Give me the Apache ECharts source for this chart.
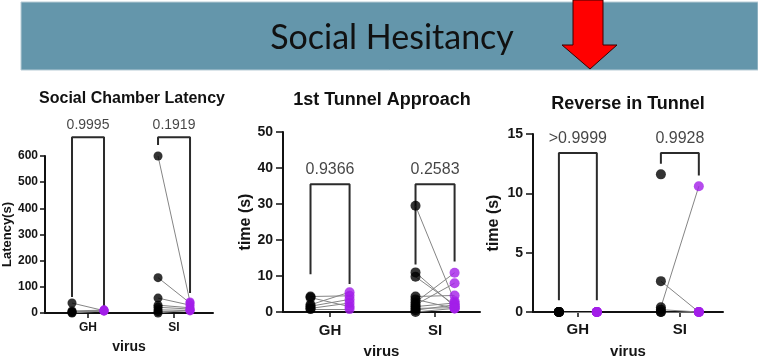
<!DOCTYPE html>
<html><head><meta charset="utf-8">
<script src="https://cdn.jsdelivr.net/npm/echarts@6/dist/echarts.min.js"></script>
<style>html,body{margin:0;padding:0;background:#fff}#c{width:758px;height:364px}</style>
</head><body><div id="c"></div>
<script>
// ---------- DATA ----------
const groups = ['GH', 'SI'];
const bannerTitle = 'Social Hesitancy';
const panelTitles = ['Social Chamber Latency', '1st Tunnel Approach', 'Reverse in Tunnel'];
const yNames = ['Latency(s)', 'time (s)', 'time (s)'];
const xName = 'virus';

// Panel 1: Social Chamber Latency (pre = black, post = purple; paired by index)
const latGHpre  = [38, 8, 5, 2, 0];
const latGHpost = [9, 11, 7, 12, 8];
const latSIpre  = [600, 135, 57, 30, 22, 12, 5, 0];
const latSIpost = [42, 38, 30, 20, 15, 10, 8, 12];
const latP = ['0.9995', '0.1919'];
const latBracketLevel = [672, 672];
const latBracketLegs = [[61, 23], [642, 76]];

// Panel 2: 1st Tunnel Approach
const tunGHpre  = [4.3, 4.0, 2.0, 1.6, 1.0, 0.8];
const tunGHpost = [4.5, 1.5, 5.5, 3.5, 2.5, 0.8];
const tunSIpre  = [29.5, 11.0, 9.8, 4.3, 3.5, 2.7, 2.0, 1.5, 1.0, 0.5, 0.0];
const tunSIpost = [3.0, 1.5, 2.0, 4.6, 1.0, 10.9, 8.0, 2.5, 1.2, 2.0, 1.0];
const tunP = ['0.9366', '0.2583'];
const tunBracketLevel = [35.5, 35.5];
const tunBracketLegs = [[10.5, 7.8], [13.2, 14.0]];

// Panel 3: Reverse in Tunnel
const revGHpre  = [0, 0, 0, 0, 0, 0];
const revGHpost = [0, 0, 0, 0, 0, 0];
const revSIpre  = [11.6, 2.6, 0.4, 0.2, 0, 0];
const revSIpost = [null, 0, 10.6, 0, 0, 0];
const revP = ['>0.9999', '0.9928'];
const revBracketLevel = [13.4, 13.4];
const revBracketLegs = [[1.0, 1.0], [12.5, 11.5]];

// y-axis ticks
const yMaxes = [600, 50, 15];
const yIntervals = [100, 10, 5];

// ---------- LAYOUT / STYLE ----------
const FONT = '"Liberation Sans", Arial, sans-serif';
const PURPLE = '#a21ee8';
const panels = [
  { grid: {left: 45, top: 156, width: 168, height: 157}, xMax: 1.953, pos: [0.5, 1.5],
    fs: {tick: 12, cat: 12, xname: 14, yname: 13, p: 14, title: 16},
    gaps: {xname: 27, yname: 27, catMargin: 9, tickMargin: 7, tickLen: 5, pDist: 5},
    titleXY: [132, 99], dot: 9,
    pre: [latGHpre, latSIpre], post: [latGHpost, latSIpost], p: latP,
    level: latBracketLevel, legs: latBracketLegs },
  { grid: {left: 283, top: 132, width: 197, height: 186}, xMax: 1.876, pos: [0.448, 1.448],
    fs: {tick: 14, cat: 15, xname: 15, yname: 16, p: 16, title: 18},
    gaps: {xname: 32, yname: 28, catMargin: 11, tickMargin: 10, tickLen: 7, pDist: 7},
    titleXY: [382, 100], dot: 10,
    pre: [tunGHpre, tunSIpre], post: [tunGHpost, tunSIpost], p: tunP,
    level: tunBracketLevel, legs: tunBracketLegs },
  { grid: {left: 533, top: 134, width: 190, height: 183}, xMax: 1.863, pos: [0.44, 1.44],
    fs: {tick: 14, cat: 15, xname: 15, yname: 16, p: 16, title: 18},
    gaps: {xname: 32, yname: 31, catMargin: 10, tickMargin: 10, tickLen: 7, pDist: 6},
    titleXY: [628, 104], dot: 10,
    pre: [revGHpre, revSIpre], post: [revGHpost, revSIpost], p: revP,
    level: revBracketLevel, legs: revBracketLegs }
];
const OFF = 0.186;

const chart = echarts.init(document.getElementById('c'), null, {renderer: 'canvas'});
const grids = [], xAxes = [], yAxes = [], series = [];
const graphics = [
  { type: 'rect', shape: {x: 21, y: 2, width: 737, height: 68},
    style: {fill: '#6496ab', stroke: '#b7ccd6', lineWidth: 1}, z: 1 },
  { type: 'text', x: 392, y: 38, z: 2,
    style: {text: bannerTitle, font: '34px Lato, "Open Sans", sans-serif', fill: '#111',
            textAlign: 'center', textVerticalAlign: 'middle', align: 'center', verticalAlign: 'middle'} },
  { type: 'polygon', z: 3,
    shape: {points: [[573, 0], [603, 0], [603, 45], [617, 45], [590, 69], [562, 45], [573, 45]]},
    style: {fill: '#ff0000', stroke: '#3a0000', lineWidth: 1} }
];

panels.forEach((pn, i) => {
  grids.push(Object.assign({containLabel: false}, pn.grid));
  const pos = pn.pos;
  xAxes.push({
    type: 'value', gridIndex: i, min: 0, max: pn.xMax,
    name: xName, nameLocation: 'middle', nameGap: pn.gaps.xname,
    nameTextStyle: {fontFamily: FONT, fontWeight: 'bold', fontSize: pn.fs.xname, color: '#151515'},
    axisLine: {show: true, onZero: true, lineStyle: {color: '#111', width: 2}},
    axisTick: {show: true, customValues: pos, length: 5, lineStyle: {color: '#111', width: 1.5}},
    axisLabel: {show: true, customValues: pos, margin: pn.gaps.catMargin,
      fontFamily: FONT, fontWeight: 'bold', fontSize: pn.fs.cat, color: '#151515',
      formatter: v => (v < (pos[0] + pos[1]) / 2 ? groups[0] : groups[1])},
    splitLine: {show: false}
  });
  yAxes.push({
    type: 'value', gridIndex: i, min: 0, max: yMaxes[i], interval: yIntervals[i],
    name: yNames[i], nameLocation: 'middle', nameGap: pn.gaps.yname,
    nameTextStyle: {fontFamily: FONT, fontWeight: 'bold', fontSize: pn.fs.yname, color: '#151515'},
    axisLine: {show: true, lineStyle: {color: '#111', width: 2}},
    axisTick: {show: true, length: pn.gaps.tickLen, lineStyle: {color: '#111', width: 1.5}},
    axisLabel: {margin: pn.gaps.tickMargin, fontFamily: FONT, fontWeight: 'bold', fontSize: pn.fs.tick, color: '#151515'},
    splitLine: {show: false}
  });
  graphics.push({ type: 'text', x: pn.titleXY[0], y: pn.titleXY[1], z: 5,
    style: {text: panelTitles[i], font: 'bold ' + pn.fs.title + 'px ' + FONT, fill: '#111',
            textAlign: 'center', textVerticalAlign: 'middle', align: 'center', verticalAlign: 'middle'} });

  const lineData = [], blackPts = [], purplePts = [];
  pos.forEach((gx, g) => {
    const pre = pn.pre[g], post = pn.post[g];
    pre.forEach((v, k) => {
      const w = post[k];
      if (v != null) blackPts.push([gx - OFF, v]);
      if (w != null) purplePts.push([gx + OFF, w]);
      if (v != null && w != null) lineData.push({coords: [[gx - OFF, v], [gx + OFF, w]]});
    });
    // bracket
    series.push({
      type: 'line', xAxisIndex: i, yAxisIndex: i, clip: false, symbol: 'none', silent: true, z: 2,
      lineStyle: {color: '#2b2b2b', width: 2},
      data: [[gx - OFF, pn.legs[g][0]], [gx - OFF, pn.level[g]], [gx + OFF, pn.level[g]], [gx + OFF, pn.legs[g][1]]]
    });
    // p-value label
    series.push({
      type: 'scatter', xAxisIndex: i, yAxisIndex: i, clip: false, silent: true, z: 6,
      symbolSize: 0.1, itemStyle: {color: 'rgba(0,0,0,0)'},
      label: {show: true, position: 'top', distance: pn.gaps.pDist, formatter: pn.p[g],
              fontFamily: FONT, fontSize: pn.fs.p, color: '#151515'},
      data: [[gx, pn.level[g]]]
    });
  });
  series.push({
    type: 'lines', coordinateSystem: 'cartesian2d', xAxisIndex: i, yAxisIndex: i, silent: true, z: 3,
    lineStyle: {color: '#858585', width: 1, opacity: 1}, data: lineData
  });
  series.push({
    type: 'scatter', xAxisIndex: i, yAxisIndex: i, clip: false, symbolSize: pn.dot, z: 4, silent: true,
    itemStyle: {color: '#000'}, data: blackPts
  });
  series.push({
    type: 'scatter', xAxisIndex: i, yAxisIndex: i, clip: false, symbolSize: pn.dot, z: 4, silent: true,
    itemStyle: {color: PURPLE}, data: purplePts
  });
});

chart.setOption({
  backgroundColor: '#ffffff',
  animation: false,
  grid: grids, xAxis: xAxes, yAxis: yAxes, series: series,
  graphic: graphics
});
</script></body></html>
